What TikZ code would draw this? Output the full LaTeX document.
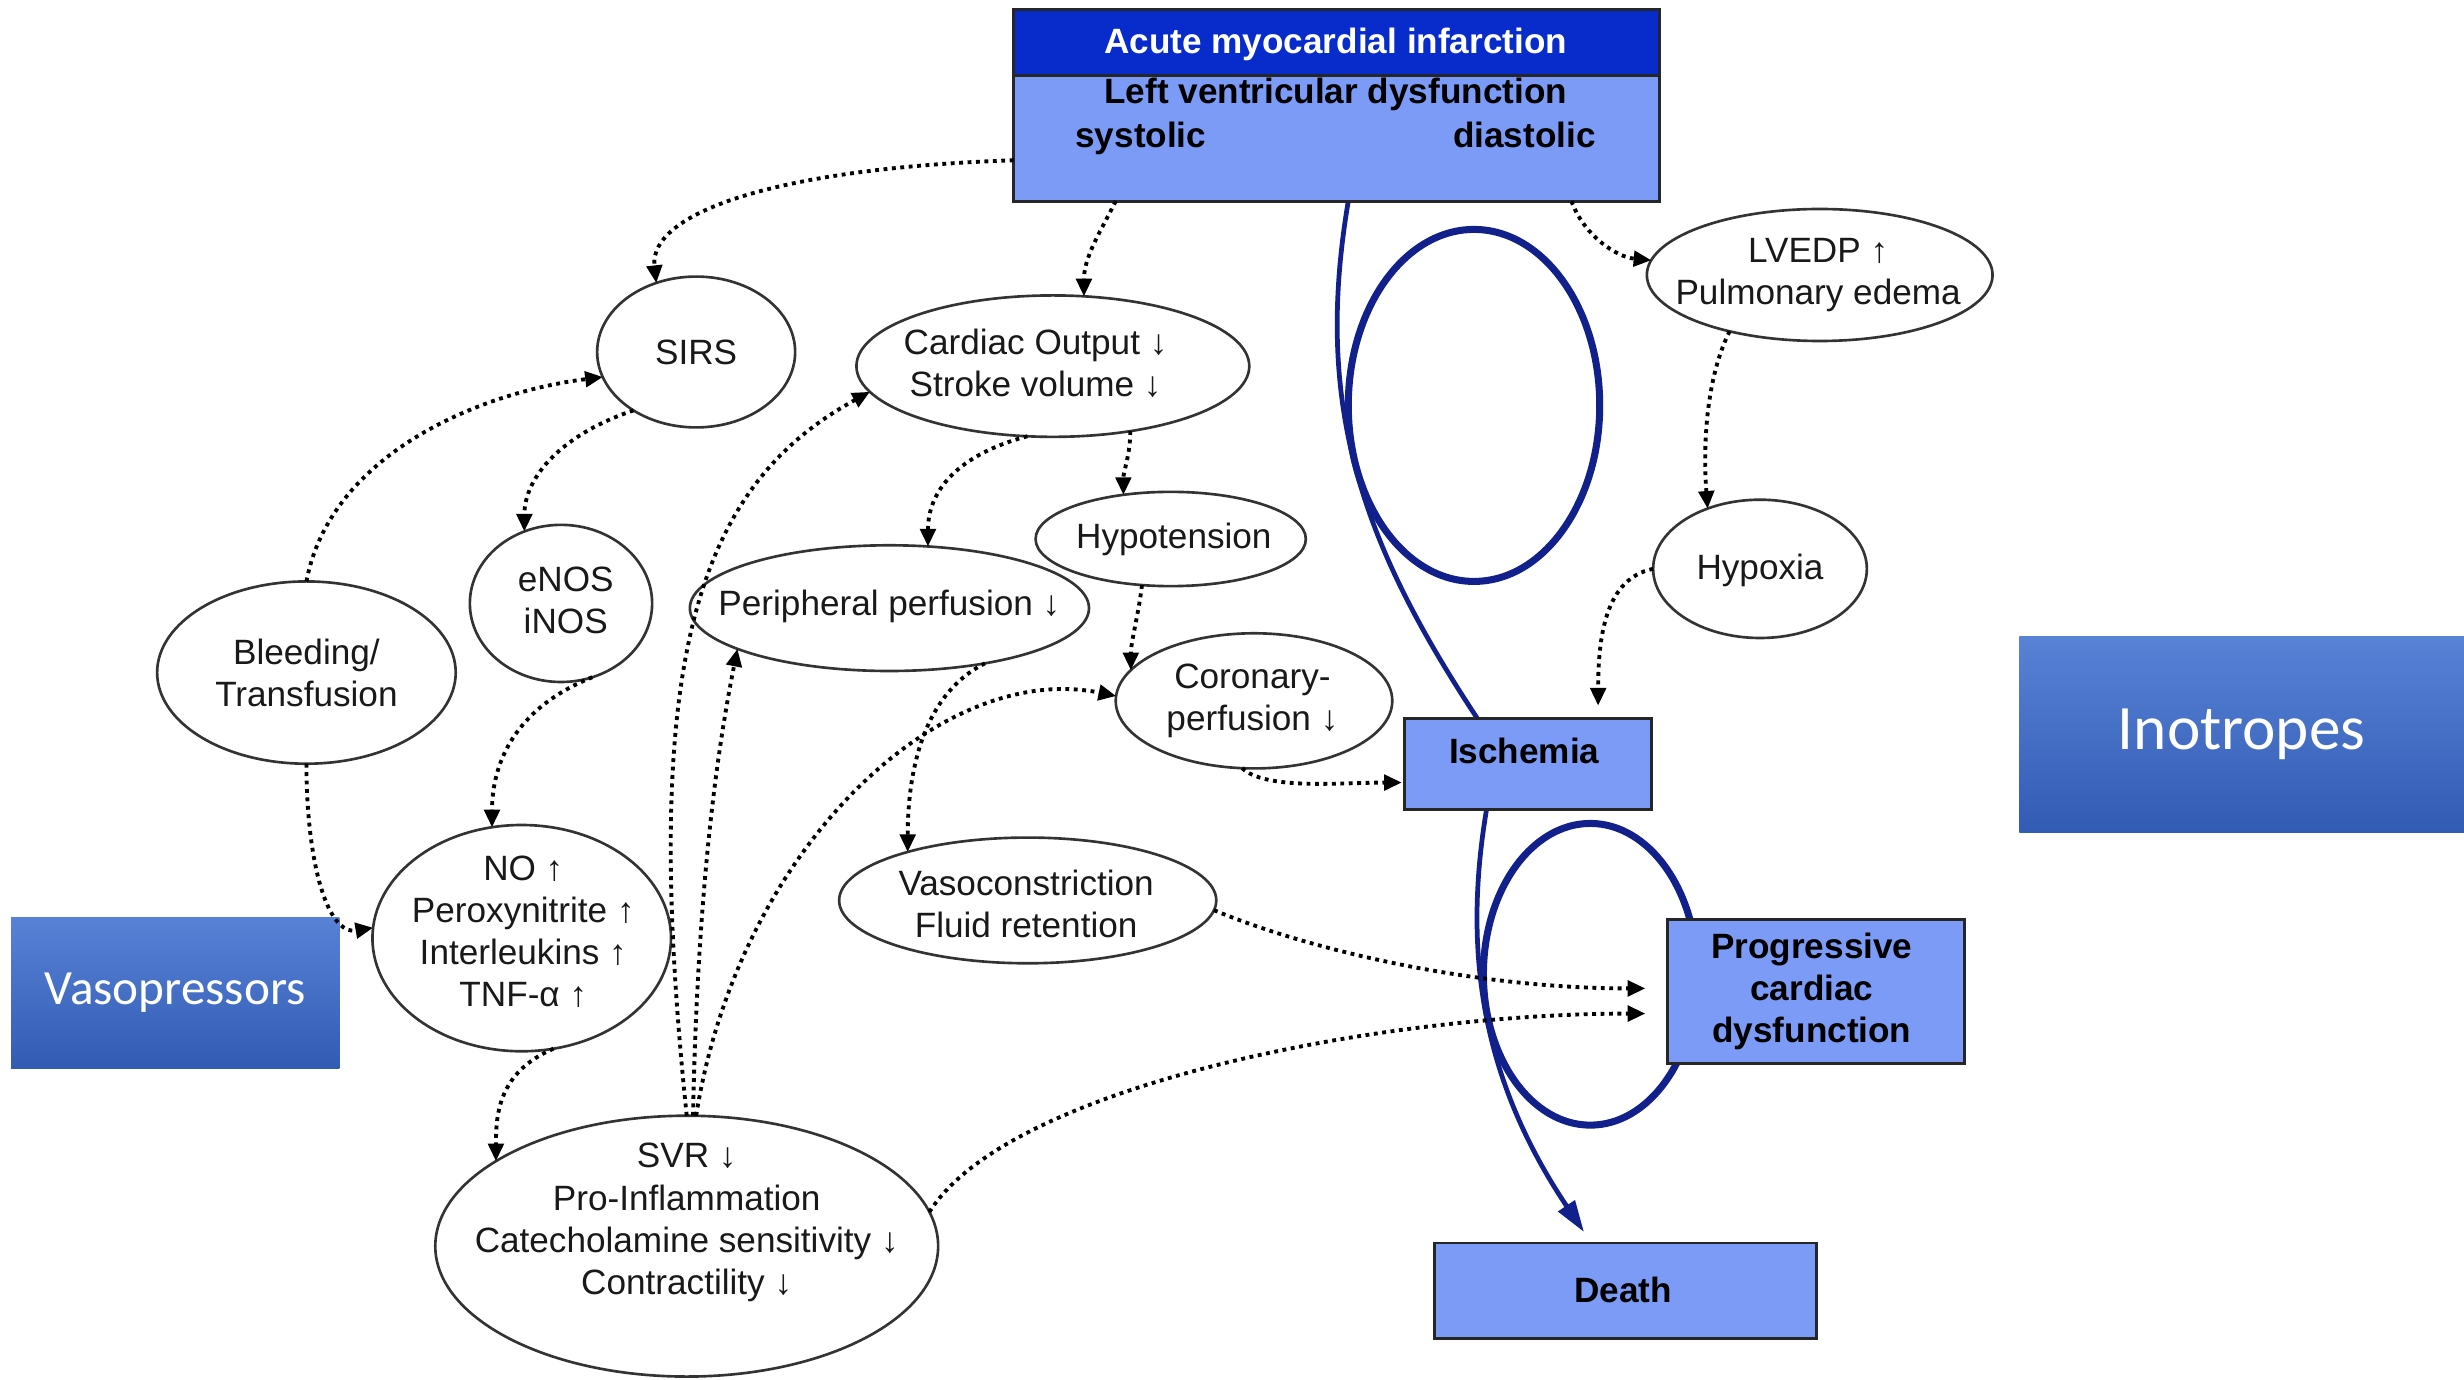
\documentclass[tikz,border=0pt]{standalone}
\usepackage{fontspec}
\setmainfont{Liberation Sans}
\newfontfamily\calfont{Carlito}
\usetikzlibrary{arrows.meta,calc,shapes.geometric}
\pgfdeclarelayer{bg}
\pgfsetlayers{bg,main}
\definecolor{boxblue}{RGB}{124,155,246}
\definecolor{headblue}{RGB}{8,44,204}
\definecolor{loopblue}{RGB}{18,32,140}
\definecolor{ptop}{RGB}{88,130,214}
\definecolor{pbot}{RGB}{50,92,180}
\def\px{0.15714mm}
\begin{document}
\begin{tikzpicture}[x=\px, y=-\px,
 ell/.style={ellipse, draw=black!80, line width=0.75pt, inner sep=0pt, outer sep=0pt},
 txt/.style={inner sep=0pt, align=center, font=\fontsize{10}{12}\selectfont, text=black!90},
 btxt/.style={inner sep=0pt, align=center, font=\bfseries\fontsize{10}{12}\selectfont},
 box/.style={draw=black!85, line width=0.8pt, fill=boxblue, inner sep=0pt, outer sep=0pt},
 dotarr/.style={line width=1.1pt, dash pattern=on 1.1pt off 1.3pt, -{Triangle[length=5pt,width=4.4pt]}},
 blueline/.style={draw=loopblue, line width=1.35pt},
 loopell/.style={ellipse, draw=loopblue, line width=2pt, inner sep=0pt},
 pbox/.style={top color=ptop, bottom color=pbot, draw=none, inner sep=0pt, text=white}
]
\useasboundingbox (0,0) rectangle (1568,878);

% ellipses
\node[ell, minimum width=126*\px, minimum height=96*\px] (sirs) at (443,224) {};
\node[ell, minimum width=250*\px, minimum height=90*\px] (co) at (670,233) {};
\node[ell, minimum width=220*\px, minimum height=84*\px] (lvedp) at (1158,175) {};
\node[ell, minimum width=116*\px, minimum height=100*\px] (enos) at (357,384) {};
\node[ell, minimum width=172*\px, minimum height=60*\px] (hypot) at (745,343) {};
\node[ell, minimum width=254*\px, minimum height=80*\px] (periph) at (566,387) {};
\node[ell, minimum width=136*\px, minimum height=88*\px] (hypox) at (1120,362) {};
\node[ell, minimum width=190*\px, minimum height=116*\px] (bleed) at (195,428) {};
\node[ell, minimum width=176*\px, minimum height=86*\px] (coron) at (798,446) {};
\node[ell, minimum width=190*\px, minimum height=144*\px] (no) at (332,597) {};
\node[ell, minimum width=240*\px, minimum height=80*\px] (vaso) at (654,573) {};
\node[ell, minimum width=320*\px, minimum height=166*\px] (svr) at (437,793) {};

\node[txt] (sirst) at (sirs) {SIRS};
\node[txt] (cot) at (659,231) {Cardiac Output ↓\\Stroke volume ↓};
\node[txt] (lvedpt) at (1157,175) {LVEDP ↑\\Pulmonary edema};
\node[txt] (enost) at (360,382) {eNOS\\iNOS};
\node[txt] (hypott) at (747,343) {Hypotension};
\node[txt] (periphat) at (566,386) {Peripheral perfusion ↓};
\node[txt] (hypoxt) at (1120,363) {Hypoxia};
\node[txt] (bleedt) at (195,428) {Bleeding/\\Transfusion};
\node[txt] (coront) at (797,446) {Coronary-\\perfusion ↓};
\node[txt] (not) at (333,593) {NO ↑\\Peroxynitrite ↑\\Interleukins ↑\\TNF-α ↑};
\node[txt] (vasot) at (653,575) {Vasoconstriction\\Fluid retention};
\node[txt] (svrt) at (437,778) {SVR ↓\\Pro-Inflammation\\Catecholamine sensitivity ↓\\Contractility ↓};

% boxes
\node[box, minimum width=411*\px, minimum height=122*\px] (ami) at (850.5,67) {};
\node[box, fill=headblue, minimum width=411*\px, minimum height=42*\px] (amihead) at (850.5,27) {};
\node[btxt, text=white] (amit) at (850,28) {Acute myocardial infarction};
\node[btxt] (lvdt) at (850,60) {Left ventricular dysfunction};
\node[btxt, anchor=base] (syst) at (726,94) {systolic};
\node[btxt, anchor=base] (diast) at (970,94) {diastolic};
\node[box, minimum width=157*\px, minimum height=58*\px] (isch) at (972.5,486) {};
\node[btxt] (ischt) at (970,478) {Ischemia};
\node[box, minimum width=189*\px, minimum height=92*\px] (prog) at (1155.5,631) {};
\node[btxt] (progt) at (1153,631) {Progressive\\cardiac\\dysfunction};
\node[box, minimum width=243*\px, minimum height=61*\px] (death) at (1034.5,821.5) {};
\node[btxt] (deatht) at (1033,821) {Death};
\node[pbox, minimum width=283*\px, minimum height=125*\px, font=\calfont\fontsize{18}{20}\selectfont] (ino) at (1426.5,467.5) {Inotropes};
\node[pbox, minimum width=209*\px, minimum height=96*\px, font=\calfont\fontsize{14}{16}\selectfont] (vasop) at (111.5,632) {Vasopressors};

% blue loops and pathway (behind boxes)
\begin{pgfonlayer}{bg}
\fill[white] (0,0) rectangle (1568,878);
\node[loopell, minimum width=160*\px, minimum height=224*\px] (loopA) at (938,258) {};
\node[loopell, minimum width=136*\px, minimum height=192*\px] (loopB) at (1012,620) {};
\draw[blueline] ($(ami.south west)+(213,0)$) .. controls ($(ami.south west)+(191,130)$) and ($(isch.north west)+(-28,-112)$) .. ($(isch.north west)+(46,0)$);
\draw[blueline, -{Triangle[length=9pt,width=5.5pt]}] ($(isch.south west)+(52,0)$) .. controls ($(isch.south west)+(36,95)$) and ($(death.north west)+(32,-101)$) .. ($(death.north west)+(95,-7)$);
\end{pgfonlayer}

% dotted connectors
\draw[dotarr] ($(ami.south west)+(0,-26)$) .. controls ($(ami.south west)+(-150,-21)$) and ($(sirs.120)+(-5,-45)$) .. (sirs.120);
\draw[dotarr] ($(ami.south west)+(65,0)$) .. controls ($(ami.south west)+(55,20)$) and ($(co.66)+(0,-25)$) .. (co.66);
\draw[dotarr] ($(ami.south east)+(-56,0)$) .. controls ($(ami.south east)+(-48,22)$) and ($(lvedp.175)+(-22,-2)$) .. (lvedp.175);
\draw[dotarr] (lvedp.212) .. controls ($(lvedp.212)+(-15,30)$) and ($(hypox.131)+(-3,-40)$) .. (hypox.131);
\draw[dotarr] (hypox.180) .. controls ($(hypox.180)+(-30,6)$) and ($(isch.north west)+(123,-53)$) .. ($(isch.north west)+(123,-8)$);
\draw[dotarr] (sirs.223) .. controls ($(sirs.223)+(-45,15)$) and ($(enos.117)+(0,-35)$) .. (enos.117);
\draw[dotarr] (bleed.north) .. controls ($(bleed.north)+(15,-80)$) and ($(sirs.195)+(-80,10)$) .. (sirs.195);
\draw[dotarr] (enos.293) .. controls ($(enos.293)+(-50,20)$) and ($(no.105)+(0,-40)$) .. (no.105);
\draw[dotarr] (bleed.south) .. controls ($(bleed.south)+(0,60)$) and ($(no.176)+(-30,5)$) .. (no.176);
\draw[dotarr] (no.286) .. controls ($(no.286)+(-35,15)$) and ($(svr.156)+(0,-30)$) .. (svr.156);
\draw[dotarr] (svr.north) .. controls ($(svr.north)+(-30,-290)$) and ($(co.188)+(-110,60)$) .. (co.188);
\draw[dotarr] ($(svr.north)+(4,0)$) .. controls ($(svr.north)+(7,-150)$) and ($(periph.195)+(-12,60)$) .. (periph.195);
\draw[dotarr] ($(svr.north)+(6,0)$) .. controls ($(svr.north)+(33,-170)$) and ($(coron.178)+(-112,-23)$) .. (coron.178);
\draw[dotarr] (periph.-30) .. controls ($(periph.-30)+(-40,20)$) and ($(vaso.158)+(0,-50)$) .. (vaso.158);
\draw[dotarr] (co.250) .. controls ($(co.250)+(-45,12)$) and ($(periph.58)+(0,-35)$) .. (periph.58);
\draw[dotarr] (co.320) .. controls ($(co.320)+(0,15)$) and ($(hypot.137)+(0,-15)$) .. (hypot.137);
\draw[dotarr] (hypot.238) .. controls ($(hypot.238)+(-2,18)$) and ($(coron.166)+(0,-18)$) .. (coron.166);
\draw[dotarr] (coron.260) .. controls ($(coron.260)+(15,14)$) and ($(isch.north west)+(-42,41)$) .. ($(isch.north west)+(-2,41)$);
\draw[dotarr] (vaso.-3) .. controls ($(vaso.-3)+(60,25)$) and ($(prog.west)+(-124,-2)$) .. ($(prog.west)+(-14,-2)$);
\draw[dotarr] (svr.8) .. controls ($(svr.8)+(50,-80)$) and ($(prog.west)+(-184,14)$) .. ($(prog.west)+(-14,14)$);
\end{tikzpicture}
\end{document}
